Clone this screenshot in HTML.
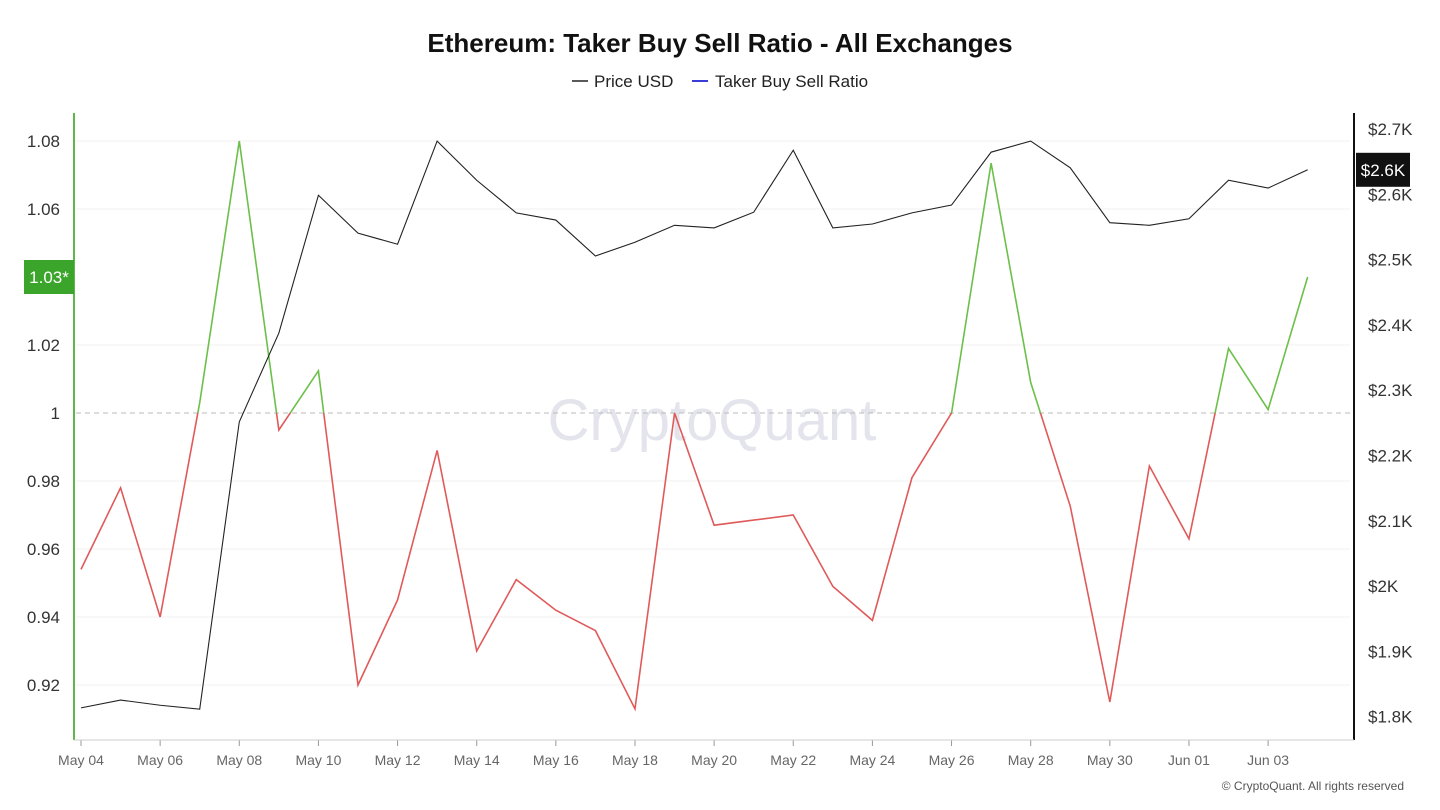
<!DOCTYPE html>
<html><head><meta charset="utf-8">
<style>
html,body{margin:0;padding:0;background:#fff;width:1440px;height:810px;overflow:hidden;font-family:"Liberation Sans","DejaVu Sans",sans-serif}
svg text{font-family:"Liberation Sans","DejaVu Sans",sans-serif}
</style></head>
<body>
<svg id="chart" width="1440" height="810">
<text x="720" y="52" text-anchor="middle" font-size="26" font-weight="bold" fill="#111">Ethereum: Taker Buy Sell Ratio - All Exchanges</text>
<g>
<g><line x1="572" y1="81" x2="588" y2="81" stroke="#222" stroke-width="1.5"/><text x="594" y="87" font-size="17" fill="#222">Price USD</text></g>
<g><line x1="692" y1="81" x2="708" y2="81" stroke="#3b3bd6" stroke-width="2"/><text x="715" y="87" font-size="17" fill="#222">Taker Buy Sell Ratio</text></g>
</g>
<text x="712" y="440" text-anchor="middle" font-size="58" fill="#e4e4ec">CryptoQuant</text>
<g id="grid"></g>
<g id="axes"></g>
<g id="series"></g>
<text x="1404" y="790" text-anchor="end" font-size="12" fill="#555">© CryptoQuant. All rights reserved</text>
</svg>
<script>
const dates=["May 04","May 05","May 06","May 07","May 08","May 09","May 10","May 11","May 12","May 13","May 14","May 15","May 16","May 17","May 18","May 19","May 20","May 21","May 22","May 23","May 24","May 25","May 26","May 27","May 28","May 29","May 30","May 31","Jun 01","Jun 02","Jun 03","Jun 04"];
const ratio=[0.954,0.978,0.940,1.003,1.080,0.995,1.0124,0.920,0.945,0.989,0.930,0.951,0.942,0.936,0.913,1.0,0.967,0.9685,0.970,0.949,0.939,0.981,1.0,1.0735,1.009,0.9726,0.915,0.9844,0.963,1.019,1.001,1.040];
const price=[1812,1824,1816,1810,2250,2386,2597,2539,2522,2680,2620,2570,2559,2504,2525,2551,2547,2571,2666,2547,2553,2570,2582,2663,2680,2639,2555,2551,2561,2620,2608,2636];
const leftTicks=[0.92,0.94,0.96,0.98,1,1.02,1.06,1.08];
const rightTicks=[1800,1900,2000,2100,2200,2300,2400,2500,2600,2700];
const rightLabels=["$1.8K","$1.9K","$2K","$2.1K","$2.2K","$2.3K","$2.4K","$2.5K","$2.6K","$2.7K"];
const xLabelIdx=[0,2,4,6,8,10,12,14,16,18,20,22,24,26,28,30];
const NS="http://www.w3.org/2000/svg";
const X=i=>81+i*39.57;
const YL=v=>413-(v-1)*3400;
const YR=p=>128+(2700-p)*0.653;
function mk(t,a,parent){const e=document.createElementNS(NS,t);for(const k in a)e.setAttribute(k,a[k]);parent.appendChild(e);return e;}
const grid=document.getElementById('grid'),axes=document.getElementById('axes'),series=document.getElementById('series');
leftTicks.forEach(v=>{
 const l=mk('line',{x1:76,x2:1350,y1:YL(v),y2:YL(v),stroke:v===1?'#bbb':'#f0f0f0','stroke-dasharray':v===1?'5,4':'none'},grid);
 
 
 const t=mk('text',{x:60,y:YL(v)+6,'text-anchor':'end','font-size':17,fill:'#333'},axes);
 t.textContent=String(v);
 
 
});
rightTicks.forEach((p,i)=>{
 const t=mk('text',{x:1368,y:YR(p)+7,'font-size':17,fill:'#333'},axes);
 t.textContent=rightLabels[i];
 
 
});
xLabelIdx.forEach(i=>{
 mk('line',{x1:X(i),x2:X(i),y1:740,y2:746,stroke:'#999'},axes);
 const t=mk('text',{x:X(i),y:765,'text-anchor':'middle','font-size':14,fill:'#666'},axes);
 t.textContent=dates[i];
 
 
});
const la=mk('line',{x1:74,x2:74,y1:113,y2:740,stroke:'#5cb84a','stroke-width':2},axes);


const ra=mk('line',{x1:1354,x2:1354,y1:113,y2:740,stroke:'#111','stroke-width':2},axes);


mk('line',{x1:74,x2:1354,y1:740,y2:740,stroke:'#ccc'},axes);
// clip paths
const defs=mk('defs',{},series);
const c1=mk('clipPath',{id:'above'},defs);mk('rect',{x:0,y:0,width:1440,height:YL(1)},c1);
const c2=mk('clipPath',{id:'below'},defs);mk('rect',{x:0,y:YL(1),width:1440,height:810},c2);
const rpts=ratio.map((v,i)=>X(i)+','+YL(v)).join(' ');
const g1=mk('polyline',{points:rpts,fill:'none',stroke:'#6cc04a','stroke-width':1.6,'clip-path':'url(#above)'},series);


const g2=mk('polyline',{points:rpts,fill:'none',stroke:'#e05a5a','stroke-width':1.6,'clip-path':'url(#below)'},series);


const pl=mk('polyline',{points:price.map((p,i)=>X(i)+','+YR(p)).join(' '),fill:'none',stroke:'#222','stroke-width':1.1},series);


// last-value labels
const lr=ratio[ratio.length-1], lp=price[price.length-1];
const b1=mk('rect',{x:24,y:YL(lr)-17,width:50,height:34,fill:'#3aa52a'},series);


const t1=mk('text',{x:49,y:YL(lr)+6,'text-anchor':'middle','font-size':17,fill:'#fff'},series);t1.textContent='1.03*';
const b2=mk('rect',{x:1356,y:YR(lp)-17,width:54,height:34,fill:'#111'},series);


const t2=mk('text',{x:1383,y:YR(lp)+6,'text-anchor':'middle','font-size':17,fill:'#fff'},series);t2.textContent='$2.6K';
</script>
</body></html>
